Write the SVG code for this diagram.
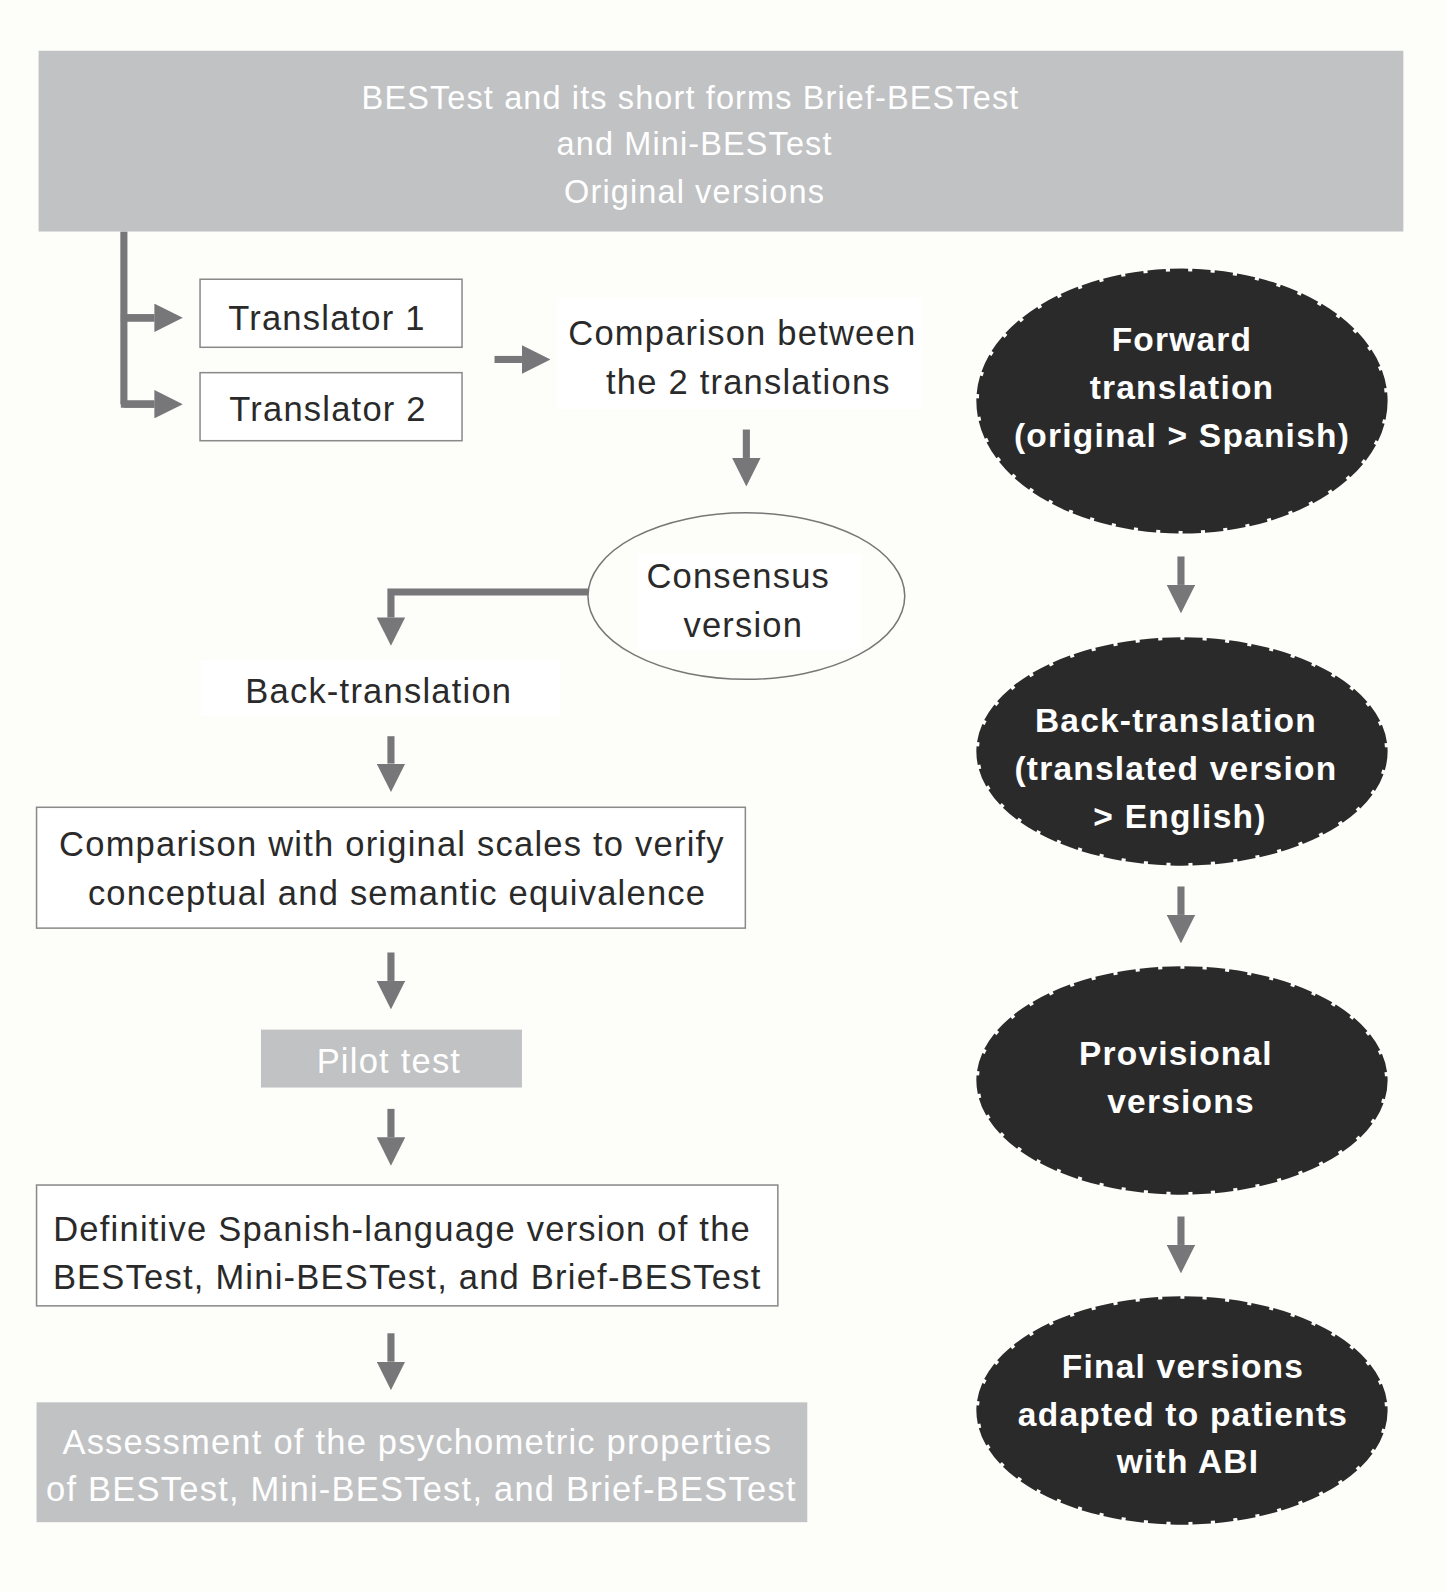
<svg xmlns="http://www.w3.org/2000/svg" width="1446" height="1592" viewBox="0 0 1446 1592">
<style>
.t{font-family:"Liberation Sans",Arial,sans-serif;font-size:34px;letter-spacing:1.2px;fill:#2a2a2a;text-anchor:middle}
.ti{font-size:32px;letter-spacing:1.1px}
.w{fill:#ffffff}
.b{font-weight:bold;fill:#ffffff;font-size:33px;letter-spacing:1.2px}
.box{fill:#ffffff;stroke:#8a8a8a;stroke-width:1.5}
.gray{fill:#c1c2c4}
.dark{fill:#2b2a2b;stroke:#2b2a2b;stroke-width:5;stroke-dasharray:18 4}
.c{fill:none;stroke:#77777a;stroke-width:7}
.bg{fill:#ffffff}
</style>
<defs>
<marker id="ah" markerUnits="userSpaceOnUse" markerWidth="28" markerHeight="28" viewBox="0 0 28 28" refX="0" refY="14" orient="auto">
<path d="M0,0 L28,14 L0,28 z" fill="#77777a"/>
</marker>
</defs>
<rect width="1446" height="1592" fill="#fdfdf9"/>
<g transform="scale(1.01545)">
<g id="connectors">
<path class="c" d="M122,228 V398 M122,313 H152 M122,398 H152"/>
<path class="c" d="M119,313 H152" marker-end="url(#ah)"/>
<path class="c" d="M119,398 H152" marker-end="url(#ah)"/>
<path class="c" d="M487,354 H514" marker-end="url(#ah)"/>
<path class="c" d="M735,423 V451" marker-end="url(#ah)"/>
<path class="c" d="M580,583 H385 V608" marker-end="url(#ah)"/>
<path class="c" d="M385,725 V752" marker-end="url(#ah)"/>
<path class="c" d="M385,938 V966" marker-end="url(#ah)"/>
<path class="c" d="M385,1092 V1120" marker-end="url(#ah)"/>
<path class="c" d="M385,1313 V1341" marker-end="url(#ah)"/>
<path class="c" d="M1163,548 V576" marker-end="url(#ah)"/>
<path class="c" d="M1163,873 V901" marker-end="url(#ah)"/>
<path class="c" d="M1163,1198 V1226" marker-end="url(#ah)"/>
</g>

<g id="original">
<rect class="gray" x="38" y="50" width="1344" height="178"/>
<text class="t ti w" x="680" y="107">BESTest and its short forms Brief-BESTest</text>
<text class="t ti w" x="684" y="153">and Mini-BESTest</text>
<text class="t ti w" x="684" y="200">Original versions</text>
</g>

<g id="translator1">
<rect class="box" x="197" y="275" width="258" height="67"/>
<text class="t" x="322" y="325">Translator 1</text>
</g>
<g id="translator2">
<rect class="box" x="197" y="367" width="258" height="67"/>
<text class="t" x="323" y="415">Translator 2</text>
</g>

<g id="comparison">
<rect class="bg" x="548" y="293" width="360" height="110"/>
<text class="t" x="731" y="340">Comparison between</text>
<text class="t" x="737" y="388">the 2 translations</text>
</g>

<g id="consensus">
<ellipse cx="735" cy="587" rx="156" ry="82" fill="#fdfdf9" stroke="#777" stroke-width="1.5"/>
<rect class="bg" x="627" y="545" width="221" height="95"/>
<text class="t" x="727" y="579">Consensus</text>
<text class="t" x="732" y="627">version</text>
</g>

<g id="backtranslation">
<rect class="bg" x="198" y="650" width="354" height="55"/>
<text class="t" x="373" y="692">Back-translation</text>
</g>

<g id="comparison-original">
<rect class="box" x="36" y="795" width="698" height="119"/>
<text class="t" x="386" y="843">Comparison with original scales to verify</text>
<text class="t" x="391" y="891">conceptual and semantic equivalence</text>
</g>

<g id="pilot">
<rect class="gray" x="257" y="1014" width="257" height="57"/>
<text class="t w" x="383" y="1057">Pilot test</text>
</g>

<g id="definitive">
<rect class="box" x="36" y="1167" width="730" height="119"/>
<text class="t" x="396" y="1222">Definitive Spanish-language version of the</text>
<text class="t" x="401" y="1269">BESTest, Mini-BESTest, and Brief-BESTest</text>
</g>

<g id="assessment">
<rect class="gray" x="36" y="1381" width="759" height="118"/>
<text class="t w" x="411" y="1432">Assessment of the psychometric properties</text>
<text class="t w" x="415" y="1478">of BESTest, Mini-BESTest, and Brief-BESTest</text>
</g>

<g id="forward">
<ellipse class="dark" cx="1164" cy="395" rx="200" ry="128"/>
<text class="t b" x="1164" y="346">Forward</text>
<text class="t b" x="1164" y="393">translation</text>
<text class="t b" x="1164" y="440">(original &gt; Spanish)</text>
</g>

<g id="back">
<ellipse class="dark" cx="1164" cy="740" rx="200" ry="110"/>
<text class="t b" x="1158" y="721">Back-translation</text>
<text class="t b" x="1158" y="768">(translated version</text>
<text class="t b" x="1162" y="815">&gt; English)</text>
</g>

<g id="provisional">
<ellipse class="dark" cx="1164" cy="1064" rx="200" ry="110"/>
<text class="t b" x="1158" y="1049">Provisional</text>
<text class="t b" x="1163" y="1096">versions</text>
</g>

<g id="final">
<ellipse class="dark" cx="1164" cy="1389" rx="200" ry="110"/>
<text class="t b" x="1165" y="1357">Final versions</text>
<text class="t b" x="1165" y="1404">adapted to patients</text>
<text class="t b" x="1170" y="1451">with ABI</text>
</g>
</g>
</svg>
